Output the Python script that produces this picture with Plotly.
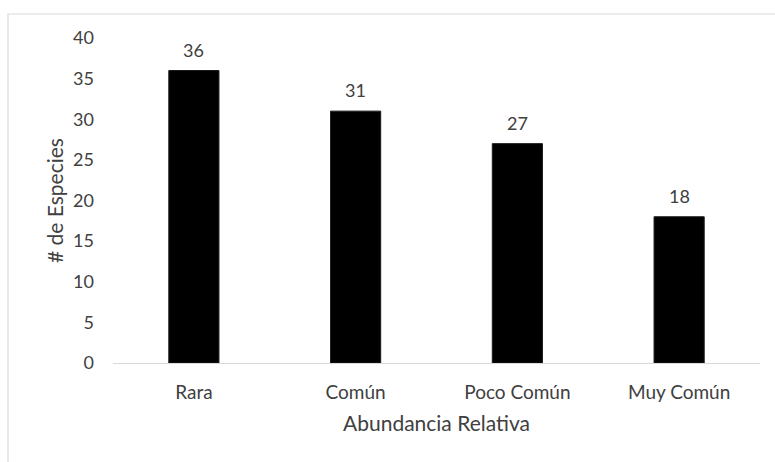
import plotly.graph_objects as go

categorias = ["Rara", "Común", "Poco Común", "Muy Común"]
especies = [36, 31, 27, 18]
y_ticks = [0, 5, 10, 15, 20, 25, 30, 35, 40]

text_color = "#404040"
font_family = "Lato, Open Sans, sans-serif"

fig = go.Figure(
    go.Bar(
        x=categorias,
        y=especies,
        width=0.31,
        marker=dict(color="#000000", line=dict(color="#1a1a1a", width=1)),
        showlegend=False,
        hoverinfo="x+y",
    )
)

# value labels above each bar
for c, v in zip(categorias, especies):
    fig.add_annotation(
        x=c, y=v, text=str(v), showarrow=False,
        yanchor="bottom", yshift=8,
        font=dict(family=font_family, size=18, color=text_color),
    )

# light outer chart frame
fig.add_shape(
    type="rect", xref="paper", yref="paper",
    x0=-0.1623, x1=1.2, y0=-0.5, y1=1.0738,
    line=dict(color="#d9d9d9", width=1.2), fillcolor="rgba(0,0,0,0)",
    layer="below",
)

fig.update_layout(
    width=775, height=462,
    margin=dict(l=113, r=15, t=38, b=99),
    plot_bgcolor="white", paper_bgcolor="white",
    font=dict(family=font_family, size=18, color=text_color),
    xaxis=dict(
        showgrid=False, showline=True, linecolor="#d9d9d9", linewidth=1.2,
        ticks="", ticklabelstandoff=12,
        tickfont=dict(size=19, color=text_color),
        title=dict(text="Abundancia Relativa", standoff=14,
                   font=dict(size=21, color=text_color)),
    ),
    yaxis=dict(
        range=[0, 40], tickvals=y_ticks, showgrid=False, zeroline=False,
        showline=False, ticks="", ticklabelstandoff=18,
        tickfont=dict(size=18, color=text_color),
        title=dict(text="# de Especies", standoff=3,
                   font=dict(size=21, color=text_color)),
    ),
)

fig.write_html("out.html")
